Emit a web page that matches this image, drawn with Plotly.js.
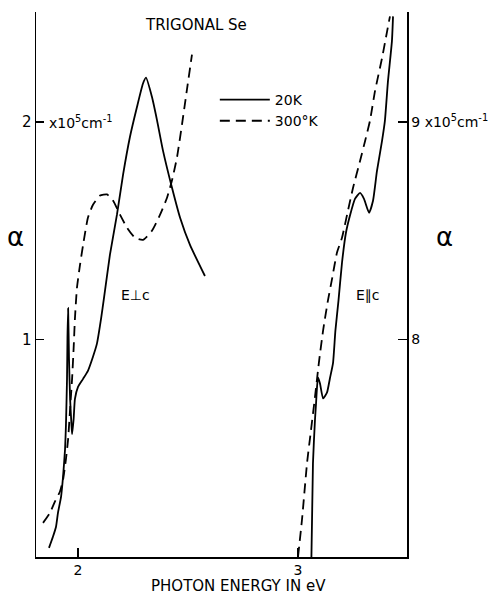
<!DOCTYPE html>
<html>
<head>
<meta charset="utf-8">
<script src="https://cdn.plot.ly/plotly-3.0.1.min.js"></script>
<style>html,body{margin:0;padding:0;background:#fff;}#chart{width:490px;height:594px;}</style>
</head>
<body>
<div id="chart"></div>
<script>
// E perpendicular c, 20K (left axis, units 1e5 cm^-1)
const perp20K_E = [1.868,1.886,1.900,1.909,1.923,1.932,1.941,1.945,1.950,1.952,1.955,1.959,1.964,1.970,1.973,1.980,1.986,2.000,2.023,2.045,2.068,2.086,2.105,2.118,2.145,2.177,2.205,2.236,2.268,2.295,2.309,2.336,2.359,2.386,2.427,2.464,2.509,2.577];
const perp20K_A = [0.042,0.093,0.139,0.204,0.278,0.370,0.495,0.602,0.819,1.005,1.144,0.912,0.727,0.611,0.565,0.634,0.727,0.782,0.819,0.856,0.921,0.981,1.097,1.190,1.389,1.574,1.759,1.931,2.069,2.176,2.204,2.116,2.009,1.870,1.699,1.560,1.435,1.292];
// E perpendicular c, 300K
const perp300K_E = [1.841,1.873,1.895,1.918,1.932,1.945,1.955,1.964,1.973,1.980,1.986,1.995,2.009,2.023,2.045,2.068,2.100,2.132,2.159,2.191,2.223,2.259,2.295,2.336,2.373,2.405,2.427,2.450,2.473,2.495,2.518];
const perp300K_A = [0.157,0.204,0.255,0.301,0.356,0.449,0.542,0.681,0.819,0.958,1.097,1.236,1.343,1.435,1.560,1.620,1.662,1.667,1.639,1.574,1.514,1.468,1.458,1.500,1.574,1.653,1.731,1.838,1.991,2.148,2.310];
// E parallel c, 20K (right axis)
const par20K_E = [3.061,3.068,3.077,3.082,3.086,3.091,3.100,3.114,3.132,3.145,3.159,3.170,3.184,3.200,3.218,3.236,3.259,3.282,3.300,3.323,3.341,3.359,3.382,3.395,3.409,3.427,3.432];
const par20K_A = [7.000,7.431,7.628,7.706,7.775,7.826,7.798,7.729,7.757,7.821,7.890,8.041,8.179,8.353,8.491,8.569,8.647,8.674,8.647,8.583,8.638,8.775,8.913,9.005,9.188,9.372,9.486];
// E parallel c, 300K
const par300K_E = [3.000,3.018,3.041,3.059,3.077,3.095,3.114,3.136,3.155,3.177,3.200,3.227,3.250,3.282,3.305,3.327,3.350,3.382,3.405,3.418];
const par300K_A = [7.000,7.170,7.431,7.583,7.734,7.894,8.041,8.179,8.280,8.399,8.468,8.592,8.697,8.821,8.913,9.005,9.142,9.294,9.417,9.486];

const xTicks = [2, 3];
const xTickText = ['2', '3'];
const yLeftTicks = [1, 2];
const yLeftTickText = ['1', '2'];
const yRightTicks = [8, 9];
const yRightTickText = ['8', '9 x10<sup>5</sup>cm<sup>-1</sup>'];
const seriesNames = ['20K', '300°K'];

const FONT = 'DejaVu Sans, sans-serif';
const INK = '#000';
const solid = {color: INK, width: 1.8, shape: 'spline', smoothing: 0.5};
const dashed = {color: INK, width: 1.8, dash: '10px,6px', shape: 'spline', smoothing: 0.5};

const traces = [
  {x: perp20K_E, y: perp20K_A, mode: 'lines', line: solid, name: seriesNames[0], legendgroup: 'a', showlegend: true, yaxis: 'y'},
  {x: perp300K_E, y: perp300K_A, mode: 'lines', line: dashed, name: seriesNames[1], legendgroup: 'b', showlegend: true, yaxis: 'y'},
  {x: par20K_E, y: par20K_A, mode: 'lines', line: solid, name: seriesNames[0], legendgroup: 'a', showlegend: false, yaxis: 'y2'},
  {x: par300K_E, y: par300K_A, mode: 'lines', line: dashed, name: seriesNames[1], legendgroup: 'b', showlegend: false, yaxis: 'y2'}
];

function note(text, xref, yref, x, y, size, xanchor) {
  return {text: text, xref: xref, yref: yref, x: x, y: y, xanchor: xanchor || 'center', yanchor: 'middle',
          showarrow: false, font: {family: FONT, size: size, color: INK}};
}

const layout = {
  width: 490, height: 594,
  margin: {l: 36, r: 83, t: 12, b: 37},
  paper_bgcolor: '#fff', plot_bgcolor: '#fff',
  font: {family: FONT, size: 14, color: INK},
  showlegend: true,
  legend: {x: 0.482, y: 0.868, xanchor: 'left', yanchor: 'top', bgcolor: 'rgba(0,0,0,0)',
           font: {family: FONT, size: 14, color: INK}, itemwidth: 50, tracegroupgap: 0},
  xaxis: {range: [1.809, 3.4955], tickvals: xTicks, ticktext: xTickText, ticks: 'inside', ticklen: 9,
          tickwidth: 1.5, tickcolor: INK, showline: true, linecolor: INK, linewidth: 1.5,
          showgrid: false, zeroline: false, mirror: false, tickfont: {size: 14}},
  yaxis: {range: [0, 2.506], tickvals: yLeftTicks, ticktext: yLeftTickText, ticks: 'inside', ticklen: 8,
          tickwidth: 1.5, tickcolor: INK, showline: true, linecolor: INK, linewidth: 1.5,
          showgrid: false, zeroline: false, tickfont: {size: 15}},
  yaxis2: {range: [7, 9.506], overlaying: 'y', side: 'right', tickvals: yRightTicks, ticktext: yRightTickText,
           ticks: 'inside', ticklen: 9, tickwidth: 1.5, tickcolor: INK, showline: true, linecolor: INK,
           linewidth: 1.5, showgrid: false, zeroline: false, tickfont: {size: 14}},
  annotations: [
    note('TRIGONAL Se', 'paper', 'paper', 0.431, 0.976, 15),
    note('x10<sup>5</sup>cm<sup>-1</sup>', 'paper', 'y', 0.0296, 2, 14, 'left'),
    note('α', 'paper', 'paper', -0.0566, 0.587, 26),
    note('α', 'paper', 'paper', 1.1024, 0.587, 26),
    note('E⊥c', 'paper', 'paper', 0.2695, 0.481, 14),
    note('E∥c', 'paper', 'paper', 0.895, 0.481, 14),
    note('PHOTON ENERGY IN eV', 'paper', 'paper', 0.5445, -0.053, 15)
  ]
};

Plotly.newPlot('chart', traces, layout, {staticPlot: true, displayModeBar: false});
</script>
</body>
</html>
